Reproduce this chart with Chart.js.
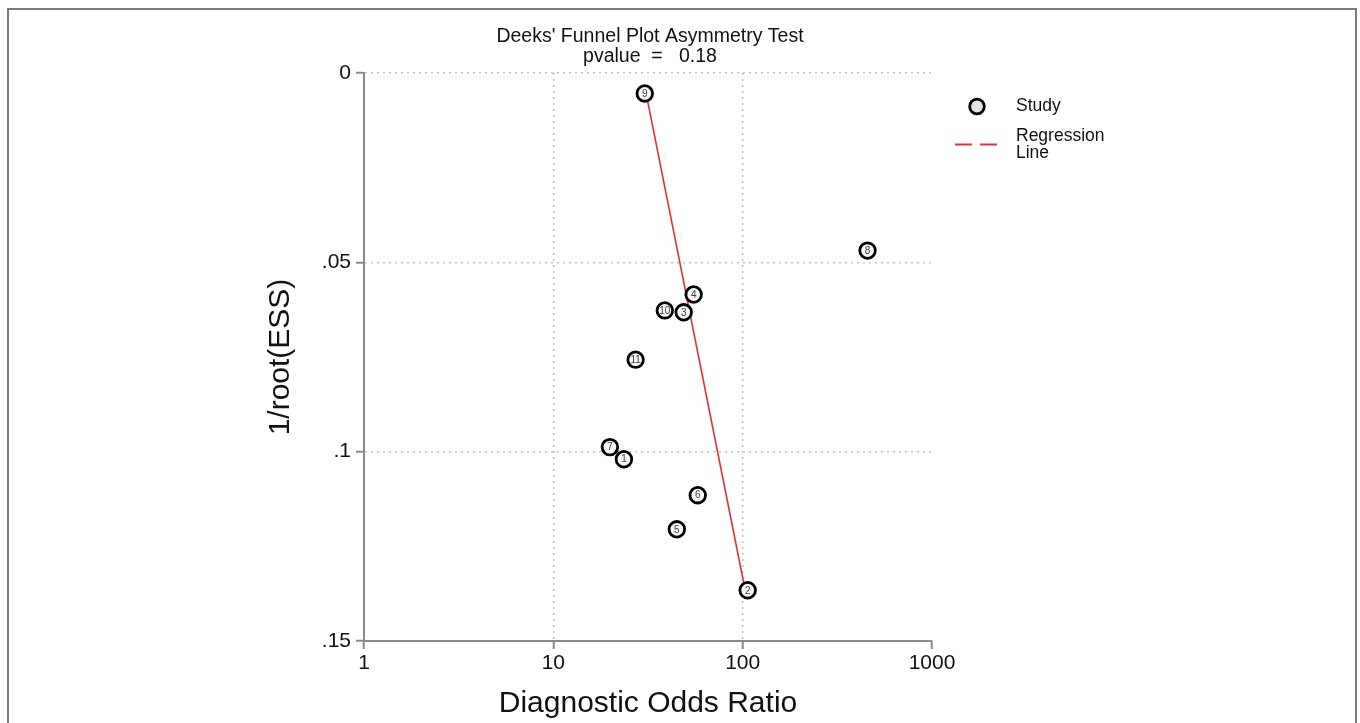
<!DOCTYPE html>
<html>
<head>
<meta charset="utf-8">
<script src="https://cdn.jsdelivr.net/npm/chart.js@4.4.1/dist/chart.umd.min.js"></script>
<style>
html,body{margin:0;padding:0;background:#fff;}
#wrap{width:1360px;height:723px;position:relative;}
</style>
</head>
<body>
<div id="wrap"><canvas id="c" width="1360" height="723"></canvas></div>
<script>
// ---- data ----
const studyIds = ['1', '2', '3', '4', '5', '6', '7', '8', '9', '10', '11'];
const studyDOR = [23.6, 106.3, 48.8, 55.1, 44.9, 57.9, 19.9, 456.7, 30.4, 38.8, 27.2];
const studyInvRootESS = [0.1020, 0.1366, 0.0632, 0.0585, 0.1205, 0.1115, 0.0988, 0.0469, 0.0054, 0.0627, 0.0757];
const regDOR = [30.9, 103.1];
const regInvRootESS = [0.0054, 0.1366];
const xTickValues = [1, 10, 100, 1000];
const xTickLabels = ['1', '10', '100', '1000'];
const yTickValues = [0, 0.05, 0.1, 0.15];
const yTickLabels = ['0', '.05', '.1', '.15'];
const titleLines = ["Deeks' Funnel Plot Asymmetry Test", "pvalue  =   0.18"];
const xTitle = 'Diagnostic Odds Ratio';
const yTitle = '1/root(ESS)';
const legendStudy = 'Study';
const legendRegression = ['Regression', 'Line'];

const FONT = '"Liberation Sans", Arial, Helvetica, sans-serif';
const AXIS_GRAY = '#8a8a8a';
const GRID_GRAY = '#c4c4c4';
const RED = '#e0303a';

const studyPoints = studyDOR.map((v, i) => ({ x: v, y: studyInvRootESS[i] }));
const regPoints = regDOR.map((v, i) => ({ x: v, y: regInvRootESS[i] }));

const framePlugin = {
  id: 'frame',
  beforeDraw(chart) {
    const ctx = chart.ctx;
    ctx.save();
    ctx.fillStyle = '#fff';
    ctx.fillRect(0, 0, chart.width, chart.height);
    ctx.strokeStyle = '#7a7a7a';
    ctx.lineWidth = 2;
    ctx.strokeRect(8, 9, 1348, 760);
    ctx.restore();
  }
};

const titlePlugin = {
  id: 'plotTitle',
  afterDraw(chart) {
    const ctx = chart.ctx;
    const a = chart.chartArea;
    const cx = (a.left + a.right) / 2 + 2;
    ctx.save();
    ctx.font = '19.5px ' + FONT;
    ctx.fillStyle = '#111';
    ctx.textAlign = 'center';
    ctx.textBaseline = 'middle';
    ctx.fillText(titleLines[0], cx, a.top - 36.5);
    ctx.fillText(titleLines[1], cx, a.top - 16.5);
    ctx.restore();
  }
};

const idLabelPlugin = {
  id: 'idLabels',
  afterDatasetsDraw(chart) {
    const meta = chart.getDatasetMeta(0);
    const ctx = chart.ctx;
    ctx.save();
    ctx.font = '10px ' + FONT;
    ctx.fillStyle = '#444';
    ctx.textAlign = 'center';
    ctx.textBaseline = 'middle';
    meta.data.forEach((el, i) => ctx.fillText(studyIds[i], el.x, el.y + 0.5));
    ctx.restore();
  }
};

const legendPlugin = {
  id: 'customLegend',
  afterDraw(chart) {
    const ctx = chart.ctx;
    const a = chart.chartArea;
    const cx = a.right + 45, cy = a.top + 33.5;
    const tx = a.right + 84;
    ctx.save();
    ctx.beginPath();
    ctx.arc(cx, cy, 7.3, 0, Math.PI * 2);
    ctx.fillStyle = '#e4e4e4';
    ctx.fill();
    ctx.lineWidth = 2.8;
    ctx.strokeStyle = '#000';
    ctx.stroke();
    ctx.font = '17.5px ' + FONT;
    ctx.fillStyle = '#111';
    ctx.textAlign = 'left';
    ctx.textBaseline = 'middle';
    ctx.fillText(legendStudy, tx, cy);
    const ly = a.top + 71.5;
    ctx.beginPath();
    ctx.setLineDash([17, 8]);
    ctx.moveTo(a.right + 23, ly);
    ctx.lineTo(a.right + 65, ly);
    ctx.strokeStyle = RED;
    ctx.lineWidth = 2;
    ctx.stroke();
    ctx.setLineDash([]);
    ctx.fillText(legendRegression[0], tx, a.top + 63.5);
    ctx.fillText(legendRegression[1], tx, a.top + 80);
    ctx.restore();
  }
};

new Chart(document.getElementById('c'), {
  type: 'scatter',
  data: {
    datasets: [
      {
        label: legendStudy,
        data: studyPoints,
        pointStyle: 'circle',
        pointRadius: 7.8,
        pointBorderWidth: 2.8,
        pointBorderColor: '#000',
        pointBackgroundColor: '#f6f6f6',
        showLine: false
      },
      {
        type: 'line',
        label: legendRegression.join(' '),
        data: regPoints,
        borderColor: RED,
        borderWidth: 1.6,
        pointRadius: 0,
        fill: false,
        tension: 0
      }
    ]
  },
  options: {
    responsive: false,
    devicePixelRatio: 1,
    animation: false,
    layout: { padding: { left: 0, right: 428, top: 73, bottom: 0 } },
    plugins: {
      legend: { display: false },
      tooltip: { enabled: false },
      title: { display: false }
    },
    scales: {
      x: {
        type: 'logarithmic',
        position: 'bottom',
        min: 1,
        max: 1000,
        afterBuildTicks: s => { s.ticks = xTickValues.map(v => ({ value: v })); },
        afterFit: s => { s.height = 82; },
        ticks: {
          autoSkip: false,
          maxRotation: 0,
          padding: 2,
          color: '#111',
          font: { family: FONT, size: 21 },
          callback: v => { const i = xTickValues.indexOf(v); return i >= 0 ? xTickLabels[i] : ''; }
        },
        grid: {
          color: c => (c.tick && c.tick.value === 1000) ? 'rgba(0,0,0,0)' : GRID_GRAY,
          lineWidth: 1.5,
          tickColor: AXIS_GRAY,
          tickLength: 8,
          tickWidth: 2,
          tickBorderDash: []
        },
        border: { display: true, color: AXIS_GRAY, width: 2, dash: [2, 4] },
        title: {
          display: true,
          text: xTitle,
          color: '#111',
          font: { family: FONT, size: 30, lineHeight: 1.2 },
          padding: { top: 0, bottom: 1 }
        }
      },
      y: {
        type: 'linear',
        position: 'left',
        reverse: true,
        min: 0,
        max: 0.15,
        afterBuildTicks: s => { s.ticks = yTickValues.map(v => ({ value: v })); },
        afterFit: s => { s.width = 364; },
        ticks: {
          padding: 5,
          color: '#111',
          font: { family: FONT, size: 21 },
          callback: v => { const i = yTickValues.indexOf(v); return i >= 0 ? yTickLabels[i] : ''; }
        },
        grid: {
          color: GRID_GRAY,
          lineWidth: 1.5,
          tickColor: AXIS_GRAY,
          tickLength: 8,
          tickWidth: 2,
          tickBorderDash: []
        },
        border: { display: true, color: AXIS_GRAY, width: 2, dash: [2, 4] },
        title: {
          display: true,
          text: yTitle,
          color: '#111',
          font: { family: FONT, size: 30, lineHeight: 1.2 },
          padding: { top: 263, bottom: 0 }
        }
      }
    }
  },
  plugins: [framePlugin, idLabelPlugin, legendPlugin, titlePlugin]
});
</script>
</body>
</html>
